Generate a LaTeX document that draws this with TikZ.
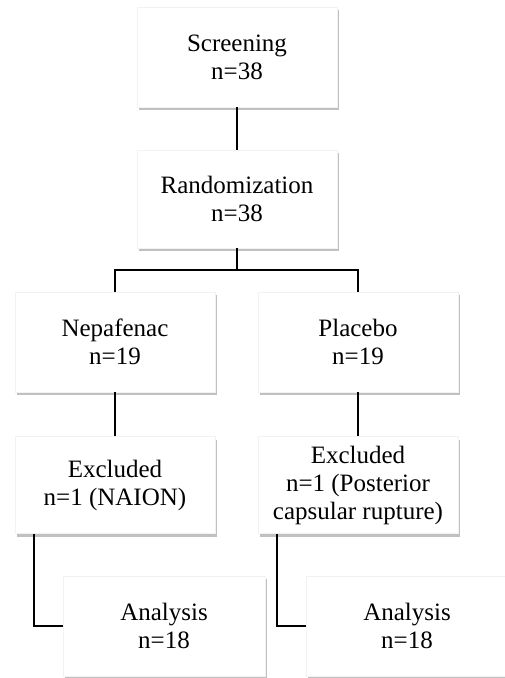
\documentclass[tikz,border=0pt]{standalone}
\usepackage{fontspec}
\setmainfont{Liberation Serif}
\usetikzlibrary{shadows}

\begin{document}
\begin{tikzpicture}[x=1pt, y=-1pt, every node/.style={font=\fontsize{25}{28}\selectfont},
    flowbox/.style={rectangle, fill=white, draw=black!5, align=center, inner sep=0pt,
        minimum width=200pt, minimum height=100pt,
        drop shadow={shadow xshift=2pt, shadow yshift=-3pt, fill=black!45, opacity=0.55}},
    link/.style={line width=1.8pt}]
    \useasboundingbox (0,0) rectangle (505,678);

    % boxes
    \node[flowbox] (screen) at (237,57) {Screening\\n=38};
    \node[flowbox, minimum height=98pt] (random) at (237,199) {Randomization\\n=38};
    \node[flowbox] (nepa) at (115,342) {Nepafenac\\n=19};
    \node[flowbox] (placebo) at (358,342) {Placebo\\n=19};
    \node[flowbox, minimum height=97pt] (exclA) at (115,485) {Excluded\\n=1 (NAION)};
    \node[flowbox, minimum height=97pt] (exclB) at (358,485) {Excluded\\n=1 (Posterior\\capsular rupture)};
    \node[flowbox, minimum width=202pt] (anaA) at (164,626) {Analysis\\n=18};
    \node[flowbox, minimum width=202pt] (anaB) at (407,626) {Analysis\\n=18};

    % connectors
    \coordinate (split) at (237,270);
    \draw[link] (screen) -- (random);
    \draw[link] (random) -- (split);
    \draw[link] (split) -| (nepa.north);
    \draw[link] (split) -| (placebo.north);
    \draw[link] (nepa) -- (exclA);
    \draw[link] (placebo) -- (exclB);
    \draw[link] ([xshift=19pt]exclA.south west) |- (anaA.west);
    \draw[link] ([xshift=19pt]exclB.south west) |- (anaB.west);
\end{tikzpicture}
\end{document}
